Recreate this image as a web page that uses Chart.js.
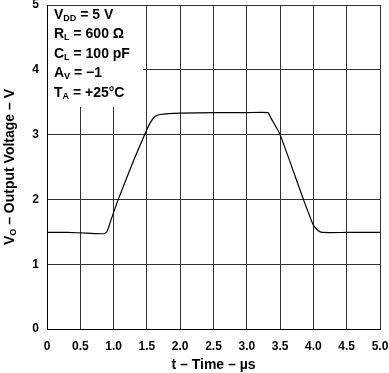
<!DOCTYPE html>
<html><head><meta charset="utf-8">
<script src="https://cdn.jsdelivr.net/npm/chart.js@4/dist/chart.umd.min.js"></script>
<style>html,body{margin:0;padding:0;background:#fff}#wrap{width:389px;height:373px}</style>
</head><body><div id="wrap"><canvas id="c" width="389" height="373"></canvas></div>
<script>
const timeUs = [0, 0.3, 0.6, 0.85, 0.9, 0.95, 1.07, 1.3, 1.5, 1.56, 1.62, 1.7, 2.0, 2.5, 3.0, 3.32, 3.36, 3.5, 3.85, 4.0, 4.07, 4.13, 4.5, 5.0];
const outputV = [1.49, 1.49, 1.48, 1.47, 1.5, 1.65, 2.0, 2.6, 3.08, 3.2, 3.28, 3.31, 3.33, 3.34, 3.34, 3.34, 3.26, 3.0, 2.0, 1.6, 1.52, 1.49, 1.49, 1.49];
const xTicks = [0, 0.5, 1.0, 1.5, 2.0, 2.5, 3.0, 3.5, 4.0, 4.5, 5.0];
const yTicks = [0, 1, 2, 3, 4, 5];
const legendLines = [["V","DD"," = 5 V"],["R","L"," = 600 \u03A9"],["C","L"," = 100 pF"],["A","V"," = \u22121"],["T","A"," = +25\u00B0C"]];
const xTitle = "t \u2013 Time \u2013 \u00B5s";
const yTitle = ["V","O"," \u2013 Output Voltage \u2013 V"];

const FONT = "'Liberation Sans', Arial, sans-serif";
const points = timeUs.map((t,i)=>({x:t,y:outputV[i]}));

function drawSub(ctx, parts, x, y, size){
  ctx.font = "bold "+size+"px "+FONT;
  ctx.fillText(parts[0], x, y);
  let w = ctx.measureText(parts[0]).width;
  ctx.font = "bold "+Math.round(size*0.62)+"px "+FONT;
  ctx.fillText(parts[1], x+w, y+size*0.25);
  w += ctx.measureText(parts[1]).width;
  ctx.font = "bold "+size+"px "+FONT;
  ctx.fillText(parts[2], x+w, y);
  return w + ctx.measureText(parts[2]).width;
}

const annot = {
  id:'annot',
  afterDraw(chart){
    const ctx = chart.ctx, a = chart.chartArea;
    ctx.save();
    ctx.fillStyle = '#fff';
    ctx.fillRect(a.left+1, a.top+1, 95, 101);
    ctx.fillStyle = '#000';
    ctx.textBaseline = 'middle';
    ctx.textAlign = 'left';
    legendLines.forEach((l,i)=>drawSub(ctx, l, 54, 15 + i*19.5, 14));
    ctx.font = "bold 14px "+FONT;
    ctx.textAlign = 'center';
    ctx.fillText(xTitle, (a.left+a.right)/2, 365);
    ctx.translate(10, (a.top+a.bottom)/2);
    ctx.rotate(-Math.PI/2);
    ctx.textAlign = 'left';
    ctx.font = "bold 14px "+FONT;
    let tw = ctx.measureText(yTitle[0]+yTitle[2]).width;
    ctx.font = "bold 9px "+FONT;
    tw += ctx.measureText(yTitle[1]).width;
    drawSub(ctx, yTitle, -tw/2, 0, 14);
    ctx.restore();
  }
};

new Chart(document.getElementById('c'), {
  type:'scatter',
  data:{datasets:[{data:points, showLine:true, borderColor:'#000', borderWidth:1.2, pointRadius:0, tension:0.15, fill:false}]},
  options:{
    responsive:false, animation:false, devicePixelRatio:1,
    layout:{padding:{top:5,right:9,left:0,bottom:0}},
    plugins:{legend:{display:false}, tooltip:{enabled:false}},
    scales:{
      x:{type:'linear', min:0, max:5,
        afterBuildTicks(s){s.ticks = xTicks.map(v=>({value:v}));},
        afterFit(s){s.height = 44; s.paddingLeft = 0; s.paddingRight = 0;},
        grid:{color:'#333', lineWidth:1, drawTicks:false},
        border:{color:'#000', width:1},
        ticks:{color:'#000', font:{family:FONT, size:12, weight:'bold'}, padding:10, maxRotation:0, autoSkip:false,
          callback:(v)=> v===0 ? '0' : Number(v).toFixed(1)}
      },
      y:{type:'linear', min:0, max:5,
        afterBuildTicks(s){s.ticks = yTicks.map(v=>({value:v}));},
        afterFit(s){s.width = 47; s.paddingTop = 0; s.paddingBottom = 0;},
        grid:{color:'#333', lineWidth:1, drawTicks:false},
        border:{color:'#000', width:1},
        ticks:{color:'#000', font:{family:FONT, size:12, weight:'bold'}, padding:8,
          callback:(v)=> String(v)}
      }
    }
  },
  plugins:[annot]
});
</script></body></html>
